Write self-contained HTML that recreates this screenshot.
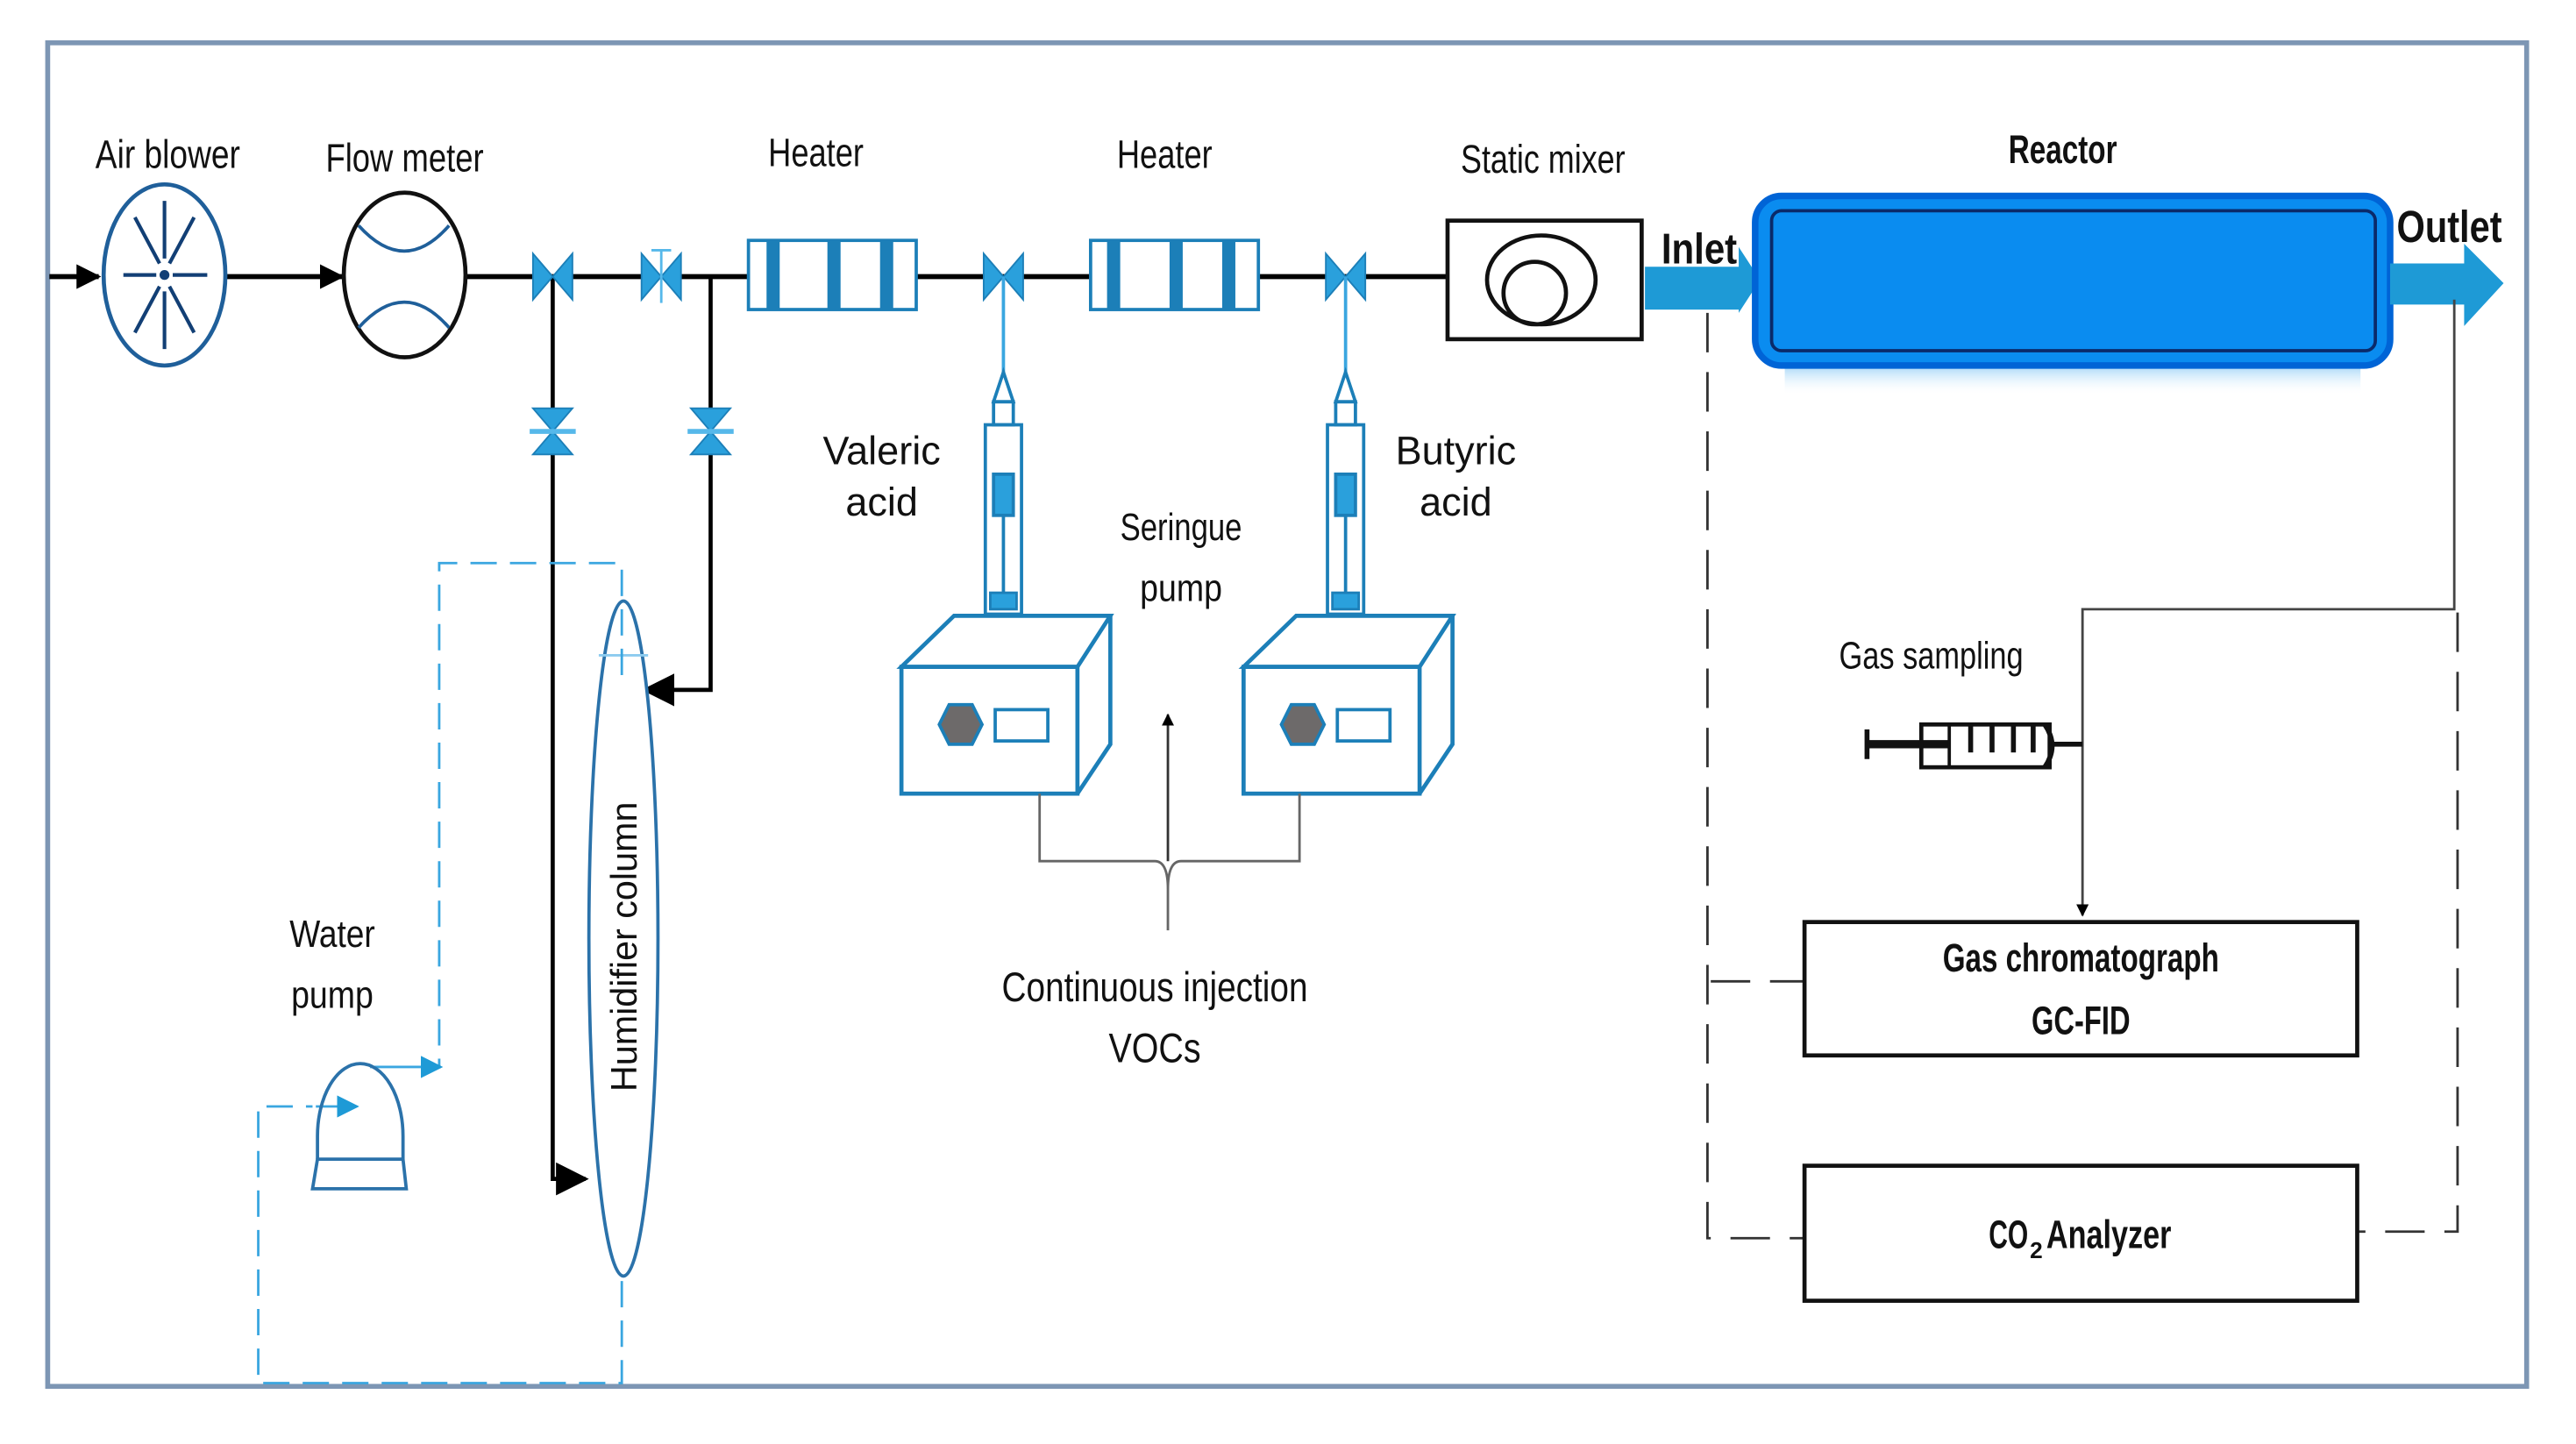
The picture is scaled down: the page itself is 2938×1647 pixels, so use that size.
<!DOCTYPE html>
<html><head><meta charset="utf-8"><style>
html,body{margin:0;padding:0;background:#fff}
svg{display:block}
text{font-family:"Liberation Sans",sans-serif;fill:#111}
.c{font-size:24px}
</style></head><body>
<svg width="2938" height="1647" viewBox="0 0 1566 877" preserveAspectRatio="none" xmlns="http://www.w3.org/2000/svg">
<defs>
<marker id="ak" viewBox="0 0 10 10" refX="9" refY="5" markerWidth="5" markerHeight="5" orient="auto"><path d="M0,0L10,5L0,10z" fill="#000"/></marker>
<marker id="ak2" viewBox="0 0 10 10" refX="9" refY="5" markerWidth="8" markerHeight="8" orient="auto"><path d="M0,0L10,5L0,10z" fill="#000"/></marker>
<marker id="ab" viewBox="0 0 10 10" refX="9" refY="5" markerWidth="9" markerHeight="9" orient="auto"><path d="M0,0L10,5L0,10z" fill="#1e9ad6"/></marker>
<linearGradient id="sh" x1="0" y1="0" x2="0" y2="1"><stop offset="0" stop-color="#7cc4f5" stop-opacity=".7"/><stop offset="1" stop-color="#fff" stop-opacity="0"/></linearGradient>
<g id="vh"><path d="M-12,-14L12,14L12,-14L-12,14z" fill="#2aa0dc" stroke="#1c7fb8" stroke-width="1"/></g>
<g id="vv"><path d="M-12,-14L12,-14L-12,14L12,14z" fill="#2aa0dc" stroke="#1c7fb8" stroke-width="1"/><line x1="-14" y1="0" x2="14" y2="0" stroke="#56b8ea" stroke-width="3"/></g>
</defs>
<rect x="29" y="26" width="1507" height="816" fill="none" stroke="#7d96b4" stroke-width="3"/>

<line x1="30" y1="168" x2="60" y2="168" stroke="#000" stroke-width="3" marker-end="url(#ak)"/>
<line x1="138" y1="168" x2="208" y2="168" stroke="#000" stroke-width="3" marker-end="url(#ak)"/>
<line x1="283" y1="168" x2="455" y2="168" stroke="#000" stroke-width="3"/>
<line x1="557" y1="168" x2="663" y2="168" stroke="#000" stroke-width="3"/>
<line x1="765" y1="168" x2="880" y2="168" stroke="#000" stroke-width="3"/>

<ellipse cx="100" cy="167" rx="37" ry="55" fill="#fff" stroke="#1f5f9a" stroke-width="2.5"/>
<g stroke="#123f75" stroke-width="2.2">
<line x1="100" y1="122" x2="100" y2="157"/><line x1="100" y1="177" x2="100" y2="212"/>
<line x1="75" y1="167" x2="95" y2="167"/><line x1="105" y1="167" x2="126" y2="167"/>
<line x1="82" y1="132" x2="97" y2="160"/><line x1="118" y1="132" x2="103" y2="160"/>
<line x1="82" y1="202" x2="97" y2="174"/><line x1="118" y1="202" x2="103" y2="174"/>
</g><circle cx="100" cy="167" r="3" fill="#123f75"/>
<text class="c" x="102" y="102" text-anchor="middle" textLength="88" lengthAdjust="spacingAndGlyphs">Air blower</text>

<ellipse cx="246" cy="167" rx="37" ry="50" fill="#fff" stroke="#111" stroke-width="2.5"/>
<path d="M218,137Q246,168 273,137" fill="none" stroke="#1f5f9a" stroke-width="2"/>
<path d="M218,199Q246,168 273,199" fill="none" stroke="#1f5f9a" stroke-width="2"/>
<text class="c" x="246" y="104" text-anchor="middle" textLength="96" lengthAdjust="spacingAndGlyphs">Flow meter</text>

<polyline points="336,168 336,716 356,716" fill="none" stroke="#000" stroke-width="2.5" marker-end="url(#ak2)"/>
<polyline points="432,168 432,419 392,419" fill="none" stroke="#000" stroke-width="2.5" marker-end="url(#ak2)"/>
<use href="#vh" x="336" y="168"/><use href="#vh" x="402" y="168"/>
<line x1="402" y1="152" x2="402" y2="184" stroke="#56b8ea" stroke-width="1.5"/><line x1="396" y1="152" x2="408" y2="152" stroke="#56b8ea" stroke-width="1.5"/>
<use href="#vv" x="336" y="262"/><use href="#vv" x="432" y="262"/>

<g stroke="#1c7fb8" stroke-width="2" fill="#fff">
<rect x="455" y="146" width="102" height="42"/><rect x="663" y="146" width="102" height="42"/>
</g>
<g fill="#1c7fb8">
<rect x="466" y="146" width="8" height="42"/><rect x="503" y="146" width="8" height="42"/><rect x="535" y="146" width="8" height="42"/>
<rect x="673" y="146" width="8" height="42"/><rect x="711" y="146" width="8" height="42"/><rect x="743" y="146" width="8" height="42"/>
</g>
<text class="c" x="496" y="101" text-anchor="middle" textLength="58" lengthAdjust="spacingAndGlyphs">Heater</text>
<text class="c" x="708" y="102" text-anchor="middle" textLength="58" lengthAdjust="spacingAndGlyphs">Heater</text>
<use href="#vh" x="610" y="168"/><use href="#vh" x="818" y="168"/>

<rect x="880" y="134" width="118" height="72" fill="#fff" stroke="#111" stroke-width="2.5"/>
<ellipse cx="937" cy="170" rx="33" ry="27" fill="none" stroke="#111" stroke-width="2.5"/>
<circle cx="933" cy="178" r="19" fill="none" stroke="#111" stroke-width="2.5"/>
<text class="c" x="938" y="105" text-anchor="middle" textLength="100" lengthAdjust="spacingAndGlyphs">Static mixer</text>

<path d="M1000,162L1057,162L1057,150L1070,170L1057,190L1057,188L1000,188z" fill="#1e9ad6"/>
<text x="1033" y="160" font-size="26" font-weight="bold" text-anchor="middle" textLength="46" lengthAdjust="spacingAndGlyphs">Inlet</text>
<rect x="1085" y="222" width="350" height="18" fill="url(#sh)"/>
<rect x="1067" y="119" width="386" height="103" rx="16" fill="#0a8cf0" stroke="#0064d6" stroke-width="4"/>
<rect x="1077" y="128" width="367" height="85" rx="6" fill="#0a8cf0" stroke="#0a2a6a" stroke-width="2"/>
<text x="1254" y="99" font-size="24" font-weight="bold" text-anchor="middle" textLength="66" lengthAdjust="spacingAndGlyphs">Reactor</text>
<path d="M1453,160L1498,160L1498,148L1522,172L1498,198L1498,185L1453,185z" fill="#1e9ad6"/>
<text x="1489" y="147" font-size="27" font-weight="bold" text-anchor="middle" textLength="64" lengthAdjust="spacingAndGlyphs">Outlet</text>

<g stroke="#333" stroke-width="1.5" fill="none" stroke-dasharray="24,12">
<polyline points="1038,190 1038,752 1097,752"/>
<line x1="1040" y1="596" x2="1097" y2="596"/>
<polyline points="1494,372 1494,748 1433,748"/>
</g>
<polyline points="1492,182 1492,370 1266,370 1266,556" fill="none" stroke="#444" stroke-width="1.5" marker-end="url(#ak)"/>
<g stroke="#111" fill="none">
<line x1="1136" y1="452" x2="1185" y2="452" stroke-width="5"/>
<line x1="1135" y1="443" x2="1135" y2="461" stroke-width="3"/>
<rect x="1168" y="440" width="78" height="26" stroke-width="2.5"/>
<line x1="1185" y1="440" x2="1185" y2="466" stroke-width="2"/>
<line x1="1198" y1="440" x2="1198" y2="457" stroke-width="3"/><line x1="1211" y1="440" x2="1211" y2="457" stroke-width="3"/>
<line x1="1224" y1="440" x2="1224" y2="457" stroke-width="3"/><line x1="1236" y1="440" x2="1236" y2="457" stroke-width="3"/>
<path d="M1243,440Q1252,453 1243,466" stroke-width="3"/>
<line x1="1247" y1="452" x2="1266" y2="452" stroke-width="3"/>
</g>
<text x="1174" y="406" font-size="23" text-anchor="middle" textLength="112" lengthAdjust="spacingAndGlyphs">Gas sampling</text>
<rect x="1097" y="560" width="336" height="81" fill="#fff" stroke="#111" stroke-width="2.5"/>
<text x="1265" y="590" font-size="24" font-weight="bold" text-anchor="middle" textLength="168" lengthAdjust="spacingAndGlyphs">Gas chromatograph</text>
<text x="1265" y="628" font-size="24" font-weight="bold" text-anchor="middle" textLength="60" lengthAdjust="spacingAndGlyphs">GC-FID</text>
<rect x="1097" y="708" width="336" height="82" fill="#fff" stroke="#111" stroke-width="2.5"/>
<text x="1209" y="758" font-size="24" font-weight="bold" textLength="24" lengthAdjust="spacingAndGlyphs">CO</text>
<text x="1234" y="764" font-size="14" font-weight="bold">2</text>
<text x="1244" y="758" font-size="24" font-weight="bold" textLength="76" lengthAdjust="spacingAndGlyphs">Analyzer</text>

<g id="sp" fill="none" stroke="#1c7fb8" stroke-width="2.5">
<line x1="610" y1="168" x2="610" y2="228" stroke="#3aa6e0" stroke-width="2"/>
<path d="M604,244L610,226L616,244z" stroke-width="2"/>
<rect x="604" y="244" width="12" height="14" stroke-width="2"/>
<rect x="599" y="258" width="22" height="115" stroke-width="2"/>
<rect x="604" y="288" width="12" height="25" stroke-width="2" fill="#2aa0dc"/>
<line x1="610" y1="313" x2="610" y2="360" stroke-width="2"/>
<rect x="602" y="360" width="16" height="10" fill="#2aa0dc" stroke-width="1.5"/>
<path d="M548,405L580,374L675,374L655,405z"/>
<rect x="548" y="405" width="107" height="77"/>
<path d="M655,482L675,452L675,374"/>
<path d="M571,440L577,428L591,428L597,440L591,452L577,452z" fill="#6d6a6a" stroke-width="2"/>
<rect x="605" y="431" width="32" height="19" stroke-width="2"/>
</g>
<use href="#sp" x="208" y="0"/>
<text x="536" y="282" font-size="24" text-anchor="middle">Valeric</text>
<text x="536" y="313" font-size="24" text-anchor="middle">acid</text>
<text x="885" y="282" font-size="24" text-anchor="middle">Butyric</text>
<text x="885" y="313" font-size="24" text-anchor="middle">acid</text>
<text x="718" y="328" font-size="23" text-anchor="middle" textLength="74" lengthAdjust="spacingAndGlyphs">Seringue</text>
<text x="718" y="365" font-size="23" text-anchor="middle" textLength="50" lengthAdjust="spacingAndGlyphs">pump</text>
<path d="M632,482L632,523L702,523Q710,523 710,540L710,565M710,540Q710,523 718,523L790,523L790,482" fill="none" stroke="#666" stroke-width="1.5"/>
<line x1="710" y1="523" x2="710" y2="434" stroke="#333" stroke-width="1.5" marker-end="url(#ak)"/>
<text x="702" y="608" font-size="25" text-anchor="middle" textLength="186" lengthAdjust="spacingAndGlyphs">Continuous injection</text>
<text x="702" y="645" font-size="25" text-anchor="middle" textLength="56" lengthAdjust="spacingAndGlyphs">VOCs</text>

<ellipse cx="379" cy="570" rx="21" ry="205" fill="#fff" stroke="#2b72aa" stroke-width="2"/>
<line x1="364" y1="398" x2="394" y2="398" stroke="#8ccbef" stroke-width="1.5"/>
<text x="0" y="0" font-size="22" text-anchor="middle" transform="translate(387,575) rotate(-90)">Humidifier column</text>
<g stroke="#3aa6e0" stroke-width="1.5" fill="none" stroke-dasharray="16,8">
<polyline points="378,410 378,342 267,342 267,648"/>
<polyline points="378,778 378,840 157,840 157,672 190,672"/>
</g>
<line x1="225" y1="648" x2="268" y2="648" stroke="#3aa6e0" stroke-width="1.5" marker-end="url(#ab)"/>
<line x1="192" y1="672" x2="217" y2="672" stroke="#3aa6e0" stroke-width="1.5" marker-end="url(#ab)"/>
<path d="M193,704L193,690A26,44 0 0 1 245,690L245,704" fill="none" stroke="#2b72aa" stroke-width="2"/>
<path d="M193,704L245,704L247,722L190,722z" fill="none" stroke="#2b72aa" stroke-width="2"/>
<text x="202" y="575" font-size="23" text-anchor="middle" textLength="52" lengthAdjust="spacingAndGlyphs">Water</text>
<text x="202" y="612" font-size="23" text-anchor="middle" textLength="50" lengthAdjust="spacingAndGlyphs">pump</text>
</svg>
</body></html>
